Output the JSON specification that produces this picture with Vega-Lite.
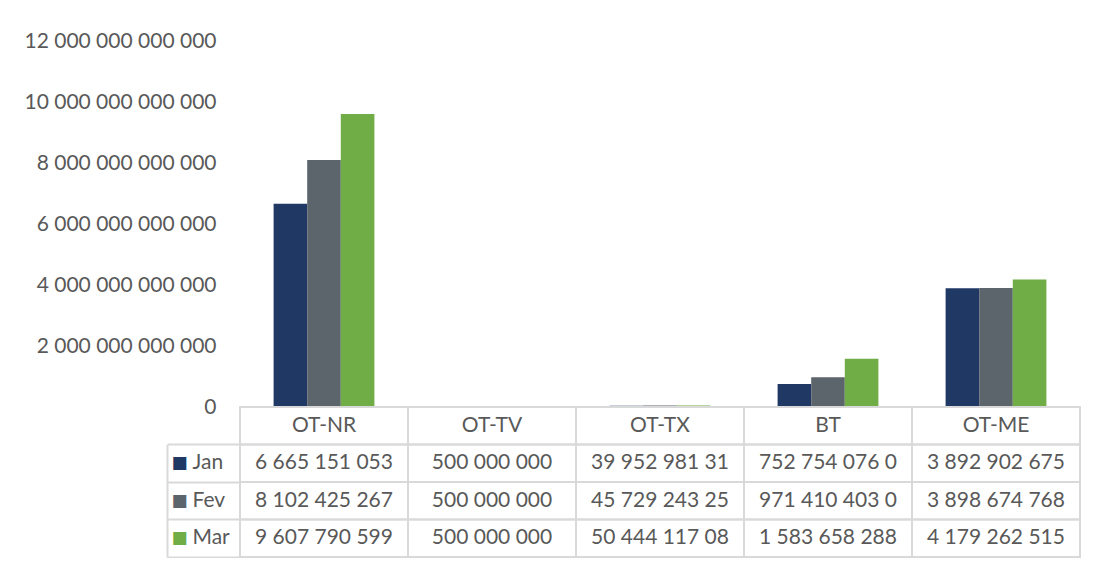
{
  "$schema": "https://vega.github.io/schema/vega-lite/v6.json",
  "background": "white",
  "padding": {"left": 20, "top": 30, "right": 5, "bottom": 0},
  "spacing": 0,
  "bounds": "flush",
  "config": {
    "locale": {"number": {"decimal": ",", "thousands": " ", "grouping": [3], "currency": ["", " €"]}},
    "view": {"stroke": null},
    "font": "Lato",
    "text": {"font": "Lato"}
  },
  "datasets": {
    "d": [
      {"cat": "OT-NR", "month": "Jan", "value": 6665151053000},
      {"cat": "OT-NR", "month": "Fev", "value": 8102425267000},
      {"cat": "OT-NR", "month": "Mar", "value": 9607790599000},
      {"cat": "OT-TV", "month": "Jan", "value": 500000000},
      {"cat": "OT-TV", "month": "Fev", "value": 500000000},
      {"cat": "OT-TV", "month": "Mar", "value": 500000000},
      {"cat": "OT-TX", "month": "Jan", "value": 39952981310},
      {"cat": "OT-TX", "month": "Fev", "value": 45729243250},
      {"cat": "OT-TX", "month": "Mar", "value": 50444117080},
      {"cat": "BT", "month": "Jan", "value": 752754076000},
      {"cat": "BT", "month": "Fev", "value": 971410403000},
      {"cat": "BT", "month": "Mar", "value": 1583658288000},
      {"cat": "OT-ME", "month": "Jan", "value": 3892902675000},
      {"cat": "OT-ME", "month": "Fev", "value": 3898674768000},
      {"cat": "OT-ME", "month": "Mar", "value": 4179262515000}
    ]
  },
  "vconcat": [
    {
      "width": 840,
      "height": 366,
      "data": {"name": "d"},
      "mark": {"type": "bar"},
      "encoding": {
        "x": {"field": "cat", "type": "nominal", "sort": null,
              "scale": {"domain": ["OT-NR", "OT-TV", "OT-TX", "BT", "OT-ME"], "paddingInner": 0, "paddingOuter": 0},
              "axis": null},
        "xOffset": {"field": "month", "type": "nominal",
                    "scale": {"domain": ["Jan", "Fev", "Mar"], "paddingInner": 0, "paddingOuter": 1}},
        "y": {"field": "value", "type": "quantitative",
              "scale": {"domain": [0, 12000000000000], "nice": false, "zero": true},
              "axis": {"values": [0, 2000000000000, 4000000000000, 6000000000000, 8000000000000, 10000000000000, 12000000000000],
                       "format": ",.0f", "domain": false, "ticks": false, "tickSize": 0, "grid": false,
                       "labelPadding": 24, "labelFontSize": 21, "labelColor": "#595959", "labelFont": "Lato",
                       "labelLimit": 400, "minExtent": 220, "title": null}},
        "color": {"field": "month", "type": "nominal",
                  "scale": {"domain": ["Jan", "Fev", "Mar"], "range": ["#203864", "#5D656C", "#70AD47"]},
                  "legend": null}
      }
    },
    {
      "width": 840,
      "height": 150,
      "data": {"name": "d"},
      "encoding": {
        "x": {"field": "cat", "type": "nominal", "sort": null,
              "scale": {"domain": ["OT-NR", "OT-TV", "OT-TX", "BT", "OT-ME"], "paddingInner": 0, "paddingOuter": 0},
              "axis": null}
      },
      "layer": [
        {
          "encoding": {
            "y": {"field": "month", "type": "nominal",
                  "scale": {"domain": ["hdr", "Jan", "Fev", "Mar"], "paddingInner": 0, "paddingOuter": 0},
                  "axis": {"orient": "left", "offset": 73, "title": null,
                           "domain": true, "domainColor": "#d9d9d9", "domainWidth": 2, "domainDash": [0, 37.5, 112.5],
                           "ticks": true, "tickSize": -73, "tickColor": "#d9d9d9", "tickWidth": 2, "bandPosition": 1,
                           "labelExpr": "datum.value === 'hdr' ? '' : datum.value",
                           "labelAlign": "left", "labelBaseline": "middle", "labelPadding": 48,
                           "labelFont": "Lato", "labelFontSize": 21, "labelColor": "#595959", "grid": false}}
          },
          "layer": [
            {"mark": {"type": "rect", "filled": false, "stroke": "#d9d9d9", "strokeWidth": 2}},
            {"mark": {"type": "text", "align": "center", "baseline": "middle", "fontSize": 21, "color": "#595959", "limit": 142, "ellipsis": "\u200b"},
             "encoding": {"text": {"field": "value", "type": "quantitative", "format": ",.0f"}}}
          ]
        },
        {
          "transform": [{"filter": "datum.month === 'Jan'"}],
          "encoding": {
            "y": {"datum": "hdr", "type": "nominal",
                  "scale": {"domain": ["hdr", "Jan", "Fev", "Mar"], "paddingInner": 0, "paddingOuter": 0},
                  "axis": {"orient": "left", "offset": 73, "title": null, "domain": false, "ticks": false, "grid": false,
                           "labelExpr": "datum.value === 'hdr' ? '' : '\u25a0'",
                           "labelAlign": "left", "labelBaseline": "middle", "labelPadding": -4,
                           "labelFont": "DejaVu Sans", "labelFontSize": 17,
                           "labelColor": {"condition": [{"test": "datum.value === 'Jan'", "value": "#203864"},
                                                        {"test": "datum.value === 'Fev'", "value": "#5D656C"}],
                                          "value": "#70AD47"}}}
          },
          "layer": [
            {"mark": {"type": "rect", "filled": false, "stroke": "#d9d9d9", "strokeWidth": 2}},
            {"mark": {"type": "text", "align": "center", "baseline": "middle", "fontSize": 21, "color": "#595959"},
             "encoding": {"text": {"field": "cat"}}}
          ]
        }
      ],
      "resolve": {"scale": {"y": "independent"}, "axis": {"y": "independent"}}
    }
  ]
}
